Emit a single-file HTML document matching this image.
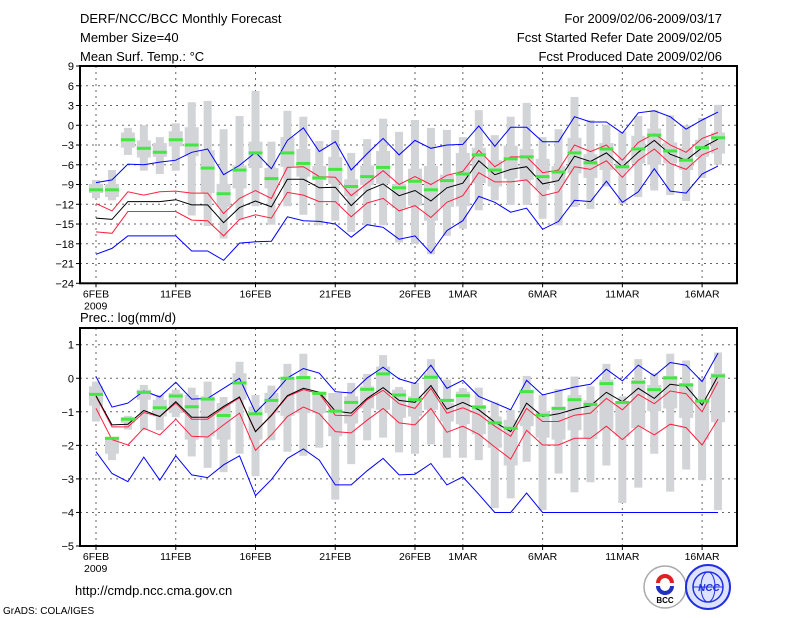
<!DOCTYPE html>
<html><head><meta charset="utf-8"><style>
html,body{margin:0;padding:0;background:#fff;}
svg{display:block;font-family:"Liberation Sans",sans-serif;}
</style></head><body>
<svg id="chart" width="800" height="618" xmlns="http://www.w3.org/2000/svg">
<rect width="800" height="618" fill="#fff"/>
<g font-size="13" fill="#000">
<text x="80" y="23">DERF/NCC/BCC Monthly Forecast</text>
<text x="80" y="42">Member Size=40</text>
<text x="80" y="61">Mean Surf. Temp.: °C</text>
<text x="722" y="23" text-anchor="end">For 2009/02/06-2009/03/17</text>
<text x="722" y="42" text-anchor="end">Fcst Started Refer Date 2009/02/05</text>
<text x="722" y="61" text-anchor="end">Fcst Produced Date 2009/02/06</text>
<text x="80" y="322">Prec.: log(mm/d)</text>
<text x="75" y="595">http://cmdp.ncc.cma.gov.cn</text>
<text x="3" y="614" font-size="10">GrADS: COLA/IGES</text>
</g>
<g id="logos">
<circle cx="665" cy="587" r="21" fill="#fff" stroke="#aaa" stroke-width="1.5"/>
<path d="M658 583 a7 7 0 1 1 14 0" fill="none" stroke="#e02020" stroke-width="4"/>
<path d="M672 586 a7 7 0 1 1 -14 0" fill="none" stroke="#2030c0" stroke-width="4"/>
<text x="665" y="603" font-size="8" text-anchor="middle" fill="#000" font-weight="bold">BCC</text>
<circle cx="708" cy="587" r="22" fill="#dde3ff" stroke="#2030e0" stroke-width="2"/>
<ellipse cx="708" cy="587" rx="15" ry="15" fill="none" stroke="#2030e0" stroke-width="1.5"/>
<ellipse cx="708" cy="587" rx="7" ry="15" fill="none" stroke="#2030e0" stroke-width="1"/>
<line x1="693" y1="587" x2="723" y2="587" stroke="#2030e0"/>
<text x="709" y="591" font-size="10" text-anchor="middle" fill="#2030e0" font-weight="bold" font-style="italic">NCC</text>
</g>
<g id="top"></g>
<g id="bot"></g>
</svg>
<script>
const dayLabels=["6FEB","11FEB","16FEB","21FEB","26FEB","1MAR","6MAR","11MAR","16MAR"];
const dayLabelIdx=[0,5,10,15,20,23,28,33,38];
const tTicks=[9,6,3,0,-3,-6,-9,-12,-15,-18,-21,-24];
const pTicks=[1,0,-1,-2,-3,-4,-5];

const tBlueHi=[-8.7,-8.3,-5.9,-6.0,-5.6,-5.3,-4.1,-3.6,-7.5,-6.1,-4.1,-6.6,-2.3,-0.4,-4.0,-2.5,-6.8,-4.3,-2.0,-4.5,-2.3,-3.5,-3.0,-2.9,-0.1,-3.2,-0.3,-0.3,-2.5,-2.5,1.3,0.5,0.5,-1.2,1.9,2.2,1.3,-0.6,0.8,2.0];
const tRedHi=[-11.9,-13.0,-10.1,-10.6,-10.1,-10.0,-10.3,-10.3,-13.4,-11.1,-9.9,-11.1,-6.4,-6.3,-7.8,-7.9,-10.7,-8.8,-6.9,-9.0,-7.8,-9.0,-7.6,-7.0,-3.8,-6.3,-4.8,-4.8,-7.2,-6.8,-3.0,-4.0,-3.0,-5.3,-2.6,-1.3,-3.0,-4.1,-2.0,-1.1];
const tMean=[-14.1,-14.3,-11.6,-11.6,-11.6,-11.3,-12.1,-12.1,-14.8,-12.5,-11.5,-12.4,-8.2,-8.2,-9.5,-9.4,-12.2,-9.9,-8.9,-10.7,-9.9,-11.5,-9.5,-8.8,-5.4,-7.5,-6.7,-6.3,-8.9,-8.4,-4.7,-5.5,-4.2,-6.3,-4.1,-2.3,-4.4,-5.3,-3.4,-2.1];
const tRedLo=[-16.2,-16.4,-13.1,-13.1,-13.1,-13.1,-14.4,-14.5,-16.8,-14.3,-13.6,-14.1,-10.2,-10.6,-11.6,-11.6,-13.9,-11.8,-11.1,-13.0,-12.2,-14.0,-11.7,-10.7,-7.2,-8.6,-8.6,-8.3,-10.7,-10.1,-6.3,-6.7,-5.4,-7.9,-5.3,-3.6,-5.8,-6.7,-4.5,-3.5];
const tBlueLo=[-19.6,-18.7,-16.8,-16.8,-16.8,-16.8,-19.1,-19.1,-20.5,-17.9,-17.7,-17.6,-13.9,-14.5,-14.6,-15.0,-17.0,-15.1,-15.5,-17.3,-16.8,-19.4,-16.0,-14.5,-10.8,-11.7,-13.2,-12.6,-15.8,-14.6,-11.4,-11.6,-8.5,-11.7,-10.1,-6.6,-10.0,-10.3,-7.4,-6.2];
const tGreen=[-9.8,-9.8,-2.2,-3.5,-4.1,-2.2,-3.0,-6.5,-10.4,-6.8,-4.2,-8.1,-4.2,-5.8,-8.0,-6.7,-9.3,-7.8,-6.4,-9.5,-8.5,-9.8,-8.4,-7.4,-4.5,-6.8,-5.1,-4.8,-7.8,-7.1,-4.2,-5.7,-3.6,-6.3,-3.6,-1.5,-3.9,-5.3,-3.4,-1.9];
const tMax=[-8.3,-6.8,-0.4,0.0,-1.8,0.3,3.5,3.7,-0.6,1.4,5.2,-2.5,2.2,1.3,-2.4,-0.7,-4.2,-2.1,1.0,-1.0,0.8,-0.4,-0.7,-1.8,2.3,-1.5,1.3,3.4,-1.8,-0.6,4.3,0.8,0.1,-1.0,1.4,2.3,1.5,0.0,1.1,3.1];
const tMin=[-11.1,-11.4,-4.5,-6.9,-7.4,-6.9,-13.7,-15.3,-17.2,-14.4,-12.3,-15.1,-12.3,-13.6,-15.2,-14.5,-16.2,-15.2,-15.2,-17.8,-18.0,-19.6,-16.8,-15.7,-12.9,-11.4,-12.1,-12.1,-14.2,-15.2,-12.4,-12.7,-9.3,-11.9,-10.9,-9.9,-10.6,-11.5,-8.0,-6.0];
const tQ3=[-8.9,-8.9,-1.1,-2.3,-2.7,-0.9,-0.3,-3.8,-8.9,-6.1,-2.5,-6.5,-1.8,-3.6,-6.2,-4.8,-8.2,-6.1,-3.9,-8.9,-6.6,-6.2,-7.5,-4.2,-3.4,-5.3,-3.1,-3.6,-5.1,-6.2,-1.9,-4.4,-2.7,-5.4,-1.6,-0.5,-2.6,-3.4,-2.2,-1.1];
const tQ1=[-10.3,-10.9,-3.4,-4.9,-4.8,-3.2,-4.7,-10.3,-12.4,-9.6,-6.5,-9.6,-6.3,-7.8,-8.3,-8.9,-10.8,-9.1,-8.9,-12.6,-12.2,-14.5,-12.4,-12.3,-8.8,-9.3,-8.1,-8.3,-9.8,-8.8,-7.3,-8.0,-6.8,-6.9,-5.8,-6.0,-5.8,-6.8,-4.8,-4.3];

const pBlueHi=[0.05,-0.86,-0.74,-0.38,-0.56,-0.12,-0.62,-0.60,-0.30,0.0,-1.02,-0.54,0.01,0.29,0.15,-0.40,-0.44,0.01,0.33,-0.02,-0.16,0.39,-0.30,-0.06,-0.54,-0.74,-0.94,-0.06,-0.50,-0.38,-0.26,-0.18,0.27,-0.08,0.39,0.07,0.47,0.39,-0.10,0.75];
const pRedHi=[-0.54,-1.45,-1.45,-1.02,-1.14,-0.74,-1.22,-1.22,-0.88,-0.58,-1.59,-1.12,-0.54,-0.34,-0.46,-1.10,-1.12,-0.64,-0.36,-0.76,-0.90,-0.30,-1.04,-0.88,-1.08,-1.43,-1.73,-0.90,-1.29,-1.29,-1.10,-1.04,-0.60,-0.94,-0.48,-0.76,-0.38,-0.46,-1.00,-0.10];
const pMean=[-0.52,-1.39,-1.37,-0.96,-1.14,-0.70,-1.16,-1.16,-0.84,-0.56,-1.59,-1.10,-0.52,-0.30,-0.42,-0.98,-1.04,-0.60,-0.28,-0.66,-0.72,-0.22,-0.92,-0.72,-0.94,-1.31,-1.59,-0.74,-1.14,-1.06,-0.92,-0.82,-0.42,-0.70,-0.30,-0.60,-0.18,-0.24,-0.80,0.07];
const pRedLo=[-0.90,-1.83,-1.99,-1.49,-1.69,-1.22,-1.73,-1.75,-1.39,-1.04,-2.15,-1.69,-1.14,-0.86,-1.06,-1.59,-1.63,-1.25,-0.90,-1.33,-1.39,-0.90,-1.61,-1.43,-1.67,-2.05,-2.41,-1.55,-1.99,-1.99,-1.79,-1.79,-1.43,-1.83,-1.41,-1.69,-1.37,-1.47,-1.99,-1.22];
const pBlueLo=[-2.19,-2.84,-3.08,-2.35,-3.04,-2.31,-2.88,-2.96,-2.58,-2.31,-3.50,-3.02,-2.39,-2.11,-2.44,-3.18,-3.18,-2.76,-2.39,-2.88,-2.86,-2.54,-3.18,-2.94,-3.46,-4,-4,-3.42,-4,-4,-4,-4,-4,-4,-4,-4,-4,-4,-4,-4];
const pGreen=[-0.48,-1.79,-1.22,-0.42,-0.88,-0.53,-0.85,-0.62,-1.11,-0.14,-1.06,-0.66,0.00,0.02,-0.45,-0.98,-0.72,-0.33,0.13,-0.50,-0.64,0.03,-0.66,-0.52,-0.86,-1.33,-1.49,-0.40,-1.10,-0.90,-0.64,-0.78,-0.16,-0.72,-0.12,-0.34,0.01,-0.20,-0.68,0.07];
const pMax=[-0.10,-1.75,-1.12,-0.20,-0.50,-0.34,-0.28,-0.10,-0.56,0.49,-0.50,-0.22,0.43,0.73,-0.40,-0.46,-0.14,0.13,0.69,-0.26,-0.14,0.57,-0.04,-0.30,-0.28,-0.72,-0.94,0.07,-0.50,-0.32,0.05,-0.24,0.43,-0.54,0.57,0.15,0.73,0.53,0.00,0.77];
const pMin=[-1.29,-2.44,-1.53,-1.55,-1.55,-1.16,-2.33,-2.67,-2.80,-2.25,-2.92,-1.85,-2.19,-2.31,-2.07,-3.62,-2.56,-1.85,-1.77,-2.21,-2.25,-1.97,-2.37,-2.37,-2.44,-3.87,-3.58,-2.49,-3.93,-2.84,-3.40,-3.10,-2.60,-3.72,-3.26,-2.25,-3.38,-2.72,-3.04,-3.93];
const pQ3=[-0.24,-1.75,-1.16,-0.34,-0.64,-0.44,-0.50,-0.54,-0.74,0.15,-0.84,-0.44,0.0,0.05,-0.40,-0.44,-0.54,-0.24,0.35,-0.34,-0.54,0.15,-0.74,-0.40,-0.80,-1.14,-1.24,-0.34,-0.98,-0.84,-0.50,-0.66,-0.04,-0.74,-0.04,-0.20,0.07,-0.14,-0.60,0.15];
const pQ1=[-0.82,-2.25,-1.33,-0.64,-1.14,-1.04,-1.83,-1.73,-1.83,-0.64,-1.83,-1.04,-1.12,-1.04,-1.04,-1.73,-1.35,-0.90,-0.94,-1.18,-1.14,-0.94,-1.29,-1.37,-1.67,-2.07,-2.60,-1.43,-1.77,-1.83,-1.55,-1.81,-1.53,-1.73,-1.49,-0.98,-0.90,-1.18,-1.83,-1.31];

const NS="http://www.w3.org/2000/svg";
const X0=80,X1=737;
function xDay(i){return 96+15.95*i;}
function mk(tag,attrs,parent){const e=document.createElementNS(NS,tag);for(const k in attrs)e.setAttribute(k,attrs[k]);parent.appendChild(e);return e;}

function panel(g,frameTop,top,bottom,vmax,vmin,ticks,d,prefix,showYear){
  const yS=v=>top+(vmax-v)*(bottom-top)/(vmax-vmin);
  ticks.forEach(t=>{
    const y=yS(t);
    if(Math.abs(y-frameTop)>2&&Math.abs(y-bottom)>2){const l=mk('line',{x1:X0,x2:X1,y1:y,y2:y,stroke:'#666','stroke-dasharray':'2,4','stroke-width':1},g);
    
    }
    const tk=mk('line',{x1:X0-4,x2:X0,y1:y,y2:y,stroke:'#000'},g);
    
    
    const tx=mk('text',{x:X0-6,y:y+4,'text-anchor':'end','font-size':11},g);tx.textContent=(t<0?'\u2212'+(-t):t);
    
    
  });
  dayLabelIdx.forEach((di,k)=>{
    const x=xDay(di);
    const l=mk('line',{x1:x,x2:x,y1:frameTop,y2:bottom,stroke:'#666','stroke-dasharray':'2,4'},g);
    
    
    const tk=mk('line',{x1:x,x2:x,y1:bottom,y2:bottom+4,stroke:'#000'},g);
    
    
    const tx=mk('text',{x:x,y:bottom+14,'text-anchor':'middle','font-size':10.5},g);tx.textContent=dayLabels[k];
    
    
  });
  if(showYear){const yr=mk('text',{x:xDay(0)-12,y:bottom+26,'font-size':10.5},g);yr.textContent='2009';
    
    }
  for(let i=0;i<d.max.length;i++){
    const x=xDay(i);
    const w=mk('rect',{x:x-4,width:8,y:yS(d.max[i]),height:Math.max(1,yS(d.min[i])-yS(d.max[i])),fill:'#d3d4d8'},g);
    
    
    const b=mk('rect',{x:x-7,width:14,y:yS(d.q3[i]),height:Math.max(1,yS(d.q1[i])-yS(d.q3[i])),fill:'#d3d4d8'},g);
    
    
  }
  const lines=[[d.blueLo,'#0000ff','blue-lower-line'],[d.redLo,'#ff2040','red-lower-line'],[d.blueHi,'#0000ff','blue-upper-line'],[d.redHi,'#ff2040','red-upper-line'],[d.mean,'#000','ensemble-mean-line']];
  lines.forEach(([arr,c,n])=>{
    const pts=arr.map((v,i)=>xDay(i).toFixed(1)+','+yS(v).toFixed(1)).join(' ');
    const p=mk('polyline',{points:pts,fill:'none',stroke:c,'stroke-width':1},g);
    
    
  });
  d.green.forEach((v,i)=>{
    const r=mk('rect',{x:xDay(i)-7,width:14,y:yS(v)-1.5,height:3,fill:'#44e644'},g);
    
    
  });
  const fr=mk('rect',{x:X0,y:frameTop,width:X1-X0,height:bottom-frameTop,fill:'none',stroke:'#000','stroke-width':2},g);
  
  
}
const gt=document.getElementById('top');


panel(gt,66,66,283.3,9,-24,tTicks,{blueHi:tBlueHi,redHi:tRedHi,mean:tMean,redLo:tRedLo,blueLo:tBlueLo,green:tGreen,max:tMax,min:tMin,q3:tQ3,q1:tQ1},'temp',true);
const gb=document.getElementById('bot');


panel(gb,328,344.7,546,1,-5,pTicks,{blueHi:pBlueHi,redHi:pRedHi,mean:pMean,redLo:pRedLo,blueLo:pBlueLo,green:pGreen,max:pMax,min:pMin,q3:pQ3,q1:pQ1},'prec',true);
</script>
</body></html>
